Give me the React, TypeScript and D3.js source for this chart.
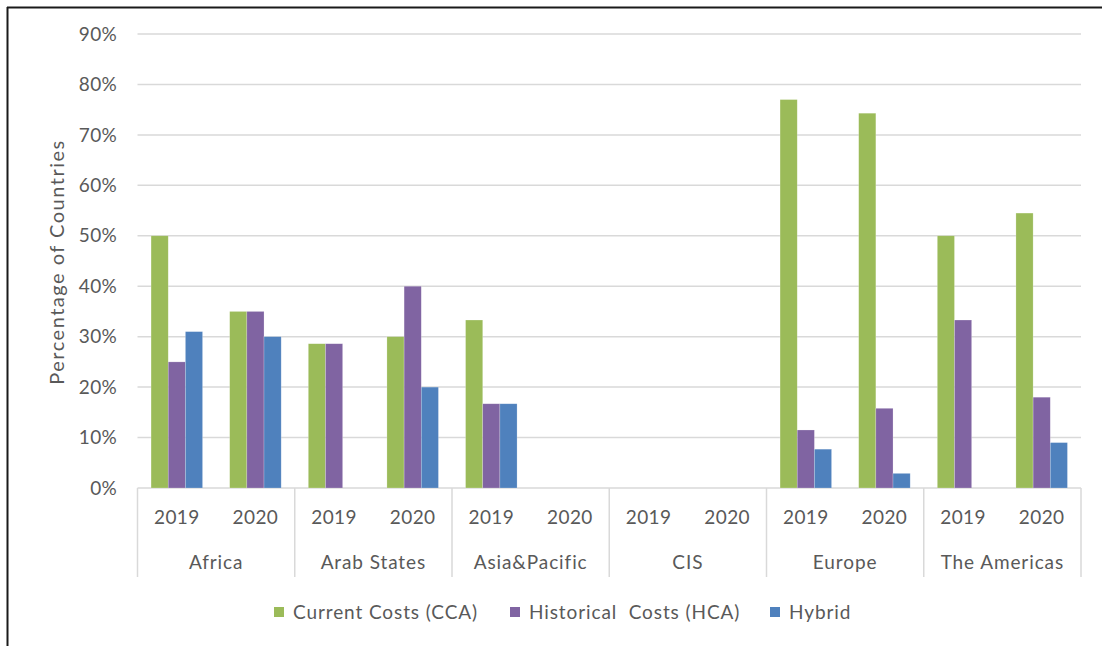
import React from "react";
import * as d3 from "d3";

const regions = ["Africa", "Arab States", "Asia&Pacific", "CIS", "Europe", "The Americas"];
const years = ["2019", "2020"];
const seriesNames = ["Current Costs (CCA)", "Historical  Costs (HCA)", "Hybrid"];
const seriesColors = ["#9BBB59", "#8064A2", "#4F81BD"];
// values per region, per year, in order [2019, 2020]
const cca = [[0.50, 0.35], [0.286, 0.30], [0.333, 0], [0, 0], [0.77, 0.743], [0.50, 0.545]];
const hca = [[0.25, 0.35], [0.286, 0.40], [0.167, 0], [0, 0], [0.115, 0.158], [0.333, 0.18]];
const hybrid = [[0.31, 0.30], [0, 0.20], [0.167, 0], [0, 0], [0.077, 0.029], [0, 0.09]];
const yTicks = [0, 0.1, 0.2, 0.3, 0.4, 0.5, 0.6, 0.7, 0.8, 0.9];

const FONT = "Lato, 'Open Sans', sans-serif";
const TXT = "#595959";
const GRID = "#d9d9d9";

export default function App() {
  const W = 1102, H = 646;
  const left = 137.5, right = 1081, top = 34, bottom = 488;
  const y = d3.scaleLinear().domain([0, 0.9]).range([bottom, top]);
  const xRegion = d3.scaleBand().domain(regions).range([left, right]).padding(0);
  const xYear = d3.scaleBand().domain(years).range([0, xRegion.bandwidth()]).padding(0);
  const xSeries = d3.scaleBand().domain(seriesNames).range([0, xYear.bandwidth()]).paddingInner(0).paddingOuter(0.79);
  const allSeries = [cca, hca, hybrid];
  const fmt = d3.format(".0%");

  const bars: any[] = [];
  regions.forEach((r, ri) => {
    years.forEach((yr, yi) => {
      allSeries.forEach((s, si) => {
        const v = s[ri][yi];
        if (v <= 0) return;
        const x = (xRegion(r) as number) + (xYear(yr) as number) + (xSeries(seriesNames[si]) as number);
        bars.push(
          <rect key={`${ri}-${yi}-${si}`} x={x} y={y(v)} width={xSeries.bandwidth()} height={y(0) - y(v)}
            fill={seriesColors[si]} stroke="#ffffff" strokeOpacity={0.35} strokeWidth={0.6} />
        );
      });
    });
  });

  const boundaries = [...regions.map((r) => xRegion(r) as number), right];
  const legendX = [274, 510, 770];
  const FS = 19;
  const LS = 0.9;

  return (
    <svg width={W} height={H} style={{ position: "absolute", left: 0, top: 0, background: "#fff" }} fontFamily={FONT}>
      <rect x={0} y={0} width={W} height={H} fill="#fff" />
      <line x1={7} y1={7.5} x2={W} y2={7.5} stroke="#1a1a1a" strokeWidth={2} />
      <line x1={7.5} y1={7} x2={7.5} y2={H} stroke="#1a1a1a" strokeWidth={2} />
      {yTicks.map((t) => (
        <g key={t}>
          <line x1={left} x2={right} y1={y(t)} y2={y(t)} stroke={GRID} strokeWidth={1.5} />
          <text x={117} y={y(t)} dy="0.35em" textAnchor="end" fontSize={FS} fill={TXT} letterSpacing={0.3}>{fmt(t)}</text>
        </g>
      ))}
      {bars}
      {boundaries.map((b, i) => (
        <line key={i} x1={b} x2={b} y1={bottom} y2={577} stroke={GRID} strokeWidth={1.5} />
      ))}
      {regions.map((r) => (
        <g key={r}>
          {years.map((yr) => (
            <text key={yr} x={(xRegion(r) as number) + (xYear(yr) as number) + xYear.bandwidth() / 2} y={517}
              dy="0.35em" textAnchor="middle" fontSize={FS} fill={TXT} letterSpacing={0.4}>{yr}</text>
          ))}
          <text x={(xRegion(r) as number) + xRegion.bandwidth() / 2} y={562} dy="0.35em" textAnchor="middle"
            fontSize={FS} fill={TXT} letterSpacing={LS}>{r}</text>
        </g>
      ))}
      <text transform={`translate(57,262) rotate(-90)`} textAnchor="middle" dy="0.35em" fontSize={20} fill={TXT} letterSpacing={1.5}>
        Percentage of Countries
      </text>
      {seriesNames.map((s, i) => (
        <g key={s}>
          <rect x={legendX[i]} y={607} width={10} height={10} fill={seriesColors[i]} />
          <text x={legendX[i] + 19} y={612} dy="0.35em" fontSize={FS} fill={TXT} letterSpacing={LS} style={{ whiteSpace: "pre" }}>{s}</text>
        </g>
      ))}
    </svg>
  );
}
